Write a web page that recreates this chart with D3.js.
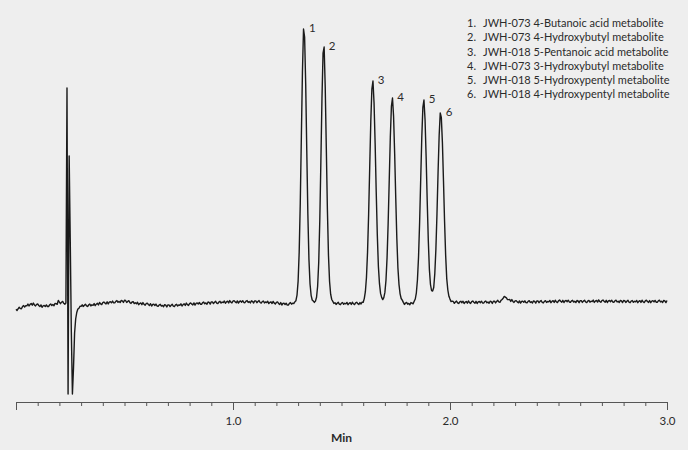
<!DOCTYPE html>
<html>
<head>
<meta charset="utf-8">
<script src="https://cdn.jsdelivr.net/npm/d3@7"></script>
<style>
  body { margin: 0; background: #eeeeee; }
  svg { display: block; }
  text { font-family: Lato, "Open Sans", sans-serif; }
</style>
</head>
<body>
<svg width="688" height="450"></svg>
<script>
// detector signal, one reading every 0.005 min, split by region of the run
const sampleStep = 0.005;
const segmentStarts = [0, 0.230, 0.305, 1.280, 2.015];

const preSolvent = [-6.2, -7.5, -5.7, -4.3, -5.6, -5.7, -3.6, -2.6, -4.0, -2.6,
  -2.8, -1.0, -3.0, -1.4, -0.5, -2.2, -0.1, -1.9, -2.9, -1.4,
  -1.0, -2.5, -3.6, -1.9, -4.3, -2.8, -2.4, -3.5, -1.9, -3.5,
  -3.5, -1.8, -1.0, -2.6, -1.6, -2.7, -0.4, -0.6, -1.3, 2.6,
  0.8, -0.7, 0.8, 1.6, -0.3, -1.2];

const solventFront = [0, 215, -91, 147, 63, -29, -91, -65, -30, -16, -9.5, -6, -5.3, -3.2, -3.4];

const earlyBaseline = [-1.8, -3.5, -2.2, -1.2, -2.9, -3.5, -1.8, -1.1, -2.9, -1.8,
  -2.3, -0.6, -2.7, -1.2, -0.3, -1.9, 0.5, -0.9, -1.6, 0.3,
  1.0, -0.1, -0.9, 1.2, -0.9, 0.8, 1.3, 0.2, 1.9, 0.2,
  0.1, 1.7, 2.4, 0.7, 1.6, 0.4, 2.6, 2.2, 0.6, 2.8,
  2.5, 0.5, 1.6, 2.3, 0.3, -0.4, 1.0, 1.4, -0.6, 0.2,
  -0.7, 0.7, -1.7, -0.5, 0.1, -1.7, 0.4, -1.3, -2.2, -0.7,
  -0.1, -1.5, -2.5, -0.7, -3.0, -1.5, -1.2, -2.5, -1.1, -3.0,
  -3.3, -1.8, -1.3, -3.1, -2.4, -3.7, -1.7, -2.2, -4.0, -1.9,
  -1.9, -3.6, -2.3, -1.3, -3.1, -3.6, -1.9, -1.3, -3.0, -1.9,
  -2.4, -0.8, -3.0, -1.6, -0.8, -2.4, -0.1, -1.6, -2.4, -0.6,
  0.1, -1.1, -1.9, 0.1, -2.1, -0.4, 0.1, -1.0, 0.5, -1.2,
  -1.3, 0.3, 0.9, -0.8, 0.1, -1.2, 1.0, 0.6, -1.1, 1.1,
  1.1, -0.6, 0.7, 1.7, -0.1, -0.6, 1.0, 1.7, -0.1, 1.0,
  0.4, 2.0, -0.3, 1.1, 1.8, 0.1, 2.4, 0.8, 0.1, 1.8,
  2.4, 1.1, 0.2, 2.1, -0.1, 1.5, 2.0, 0.8, 2.3, 0.5,
  0.3, 1.8, 2.4, 0.6, 1.4, 0.1, 2.2, 1.7, 0.0, 2.1,
  2.1, 0.3, 1.5, 2.4, 0.5, -0.1, 1.4, 2.0, 0.1, 1.1,
  0.4, 1.8, -0.6, 0.6, 1.2, -0.5, 1.6, -0.1, -1.0, 0.6,
  1.1, -0.4, -1.4, 0.4, -2.0, -0.5, -0.2, -1.5, -0.2, -2.1,
  -2.1, -0.4, 0.4, -1.2, -0.2];

const peakWindow = [-0.6, 1.1, 2.3, 7.8, 21.6, 50.9, 100, 166, 231, 274,
  266, 219, 152, 88.4, 43.4, 19, 7.7, 3.0, 2.0, 0.6,
  1.9, 5.8, 16.7, 40.5, 82.7, 142, 204.5, 250, 256, 216,
  155, 93.4, 47.6, 21.5, 8.8, 3.5, 1.6, -0.5,
  0.3, -1.5, -0.2, 0.7, -1.1, -1.7, -0.1, 0.5, -1.3, -0.3,
  -0.9, 0.6, -1.7, -0.4, 0.3, -1.4, 0.8, -0.8, -1.6, 0.1,
  0.7, -0.6, -1.5, 0.4,
  -1.0, 0.9, 0.8, 4.4, 11.3, 25.5, 50.8, 88.4, 135.5, 181.8,
  214, 222, 200, 159.5, 111, 68.2, 36.5, 19.3, 9.6,
  5.6, 3.4, 5.4, 10.6, 22.7, 45.4, 79.8, 122.7, 166, 196.6,
  205, 186.6, 149.3, 105, 64.6, 35, 18.4, 9.2, 4.5, 2.9, 0.6,
  -1.5, 0.0, 0.6, -1.2, -0.4, -1.7, 0.4, -0.1,
  -0.8, 1.8, 4.0, 10.2, 23.2, 46, 80.5, 123.5, 165.7, 195.6,
  203, 183.5, 146.3, 102, 62.6, 33.6, 18.5, 12.5, 12.0, 15.5,
  29.5, 54, 89.2, 130.5, 167.2, 190, 185.6, 160.6, 122, 81.3,
  47.6, 24.4, 13, 6.7, 3.9, 1.4, 1.8];

const lateBaseline = [1.5, -0.3, 1.0, 1.9, 0.1, -0.5, 1.1, 1.7,
  0.3, 1.8, -0.5, 0.8, 1.5, -0.2, 2.0, 0.4, -0.4, 1.3,
  2.0, 0.7, -0.2, 1.7, -0.5, 1.1, 1.5, 0.3, 1.8, 0.0,
  -0.1, 1.4, 2.0, 0.2, 1.0, -0.3, 1.8, 1.3, -0.4, 1.7,
  1.8, 0.1, 1.6, 2.7, 1.1, 0.7, 2.6, 3.5, 4.8, 6.6,
  5.9, 5.2, 3.4, 3.4, 3.6, 1.5, 3.4, 1.6, 0.6, 2.1,
  2.4, 1.1, 0.2, 2.1, -0.1, 1.5, 1.9, 0.7, 2.2, 0.4,
  0.2, 1.7, 2.3, 0.5, 1.3, 0.0, 2.1, 1.6, -0.1, 2.0,
  2.1, 0.3, 1.6, 2.5, 0.7, 0.1, 1.7, 2.3, 0.5, 1.5,
  1.1, 2.6, 0.3, 1.6, 2.3, 0.6, 2.8, 1.2, 0.4, 2.1,
  3.0, 1.7, 0.8, 2.7, 0.5, 2.1, 2.5, 1.3, 2.8, 1.0,
  0.6, 2.1, 2.7, 0.9, 1.7, 0.4, 2.5, 2.0, 0.3, 2.4,
  2.4, 0.6, 1.9, 2.8, 1.0, 0.4, 2.0, 2.6, 0.8, 1.8,
  1.4, 2.9, 0.6, 1.9, 2.6, 0.9, 3.1, 1.5, 0.7, 2.4,
  3.0, 1.7, 0.8, 2.7, 0.5, 2.1, 2.5, 1.3, 2.8, 1.0,
  0.7, 2.2, 2.8, 1.0, 1.8, 0.5, 2.6, 2.1, 0.4, 2.5,
  2.3, 0.5, 1.8, 2.7, 0.9, 0.3, 1.9, 2.5, 0.7, 1.7,
  1.1, 2.6, 0.3, 1.6, 2.3, 0.6, 2.8, 1.2, 0.4, 2.1,
  2.8, 1.5, 0.6, 2.5, 0.3, 1.9, 2.3, 1.1, 2.6, 0.8,
  0.7, 2.2, 2.8, 1.0, 1.8, 0.5, 2.6, 2.1, 0.4, 2.5];

const segments = [preSolvent, solventFront, earlyBaseline, peakWindow, lateBaseline];

// labelled peaks
const peakNumbers = [1, 2, 3, 4, 5, 6];
const peakTimes = [1.327, 1.418, 1.644, 1.734, 1.879, 1.957];
const peakHeights = [274, 256, 222, 205, 203, 190];
const compounds = [
  "JWH-073 4-Butanoic acid metabolite",
  "JWH-073 4-Hydroxybutyl metabolite",
  "JWH-018 5-Pentanoic acid metabolite",
  "JWH-073 3-Hydroxybutyl metabolite",
  "JWH-018 5-Hydroxypentyl metabolite",
  "JWH-018 4-Hydroxypentyl metabolite"
];

const majorTicks = [0, 1.0, 2.0, 3.0];
const minorTicks = d3.range(0, 31).map(i => i / 10);

const ink = "#2b2b2b";
const svg = d3.select("svg");
svg.append("rect").attr("width", 688).attr("height", 450).attr("fill", "#eeeeee");

const x = d3.scaleLinear().domain([0, 3]).range([16, 667]);
const y = d3.scaleLinear().domain([-91, 274]).range([394, 29]);

const trace = segments.flatMap((seg, s) =>
  seg.map((v, i) => [segmentStarts[s] + i * sampleStep, v]));

// axis: minor ticks + major ticks with labels
const axisY = 402;
const minorAxis = d3.axisBottom(x).tickValues(minorTicks).tickSize(4)
  .tickSizeOuter(0).tickFormat("");
const majorAxis = d3.axisBottom(x).tickValues(majorTicks).tickSize(8)
  .tickPadding(7).tickFormat(d => d === 0 ? "" : d.toFixed(1));

svg.append("g").attr("transform", `translate(0,${axisY})`).call(minorAxis);
const gMajor = svg.append("g").attr("transform", `translate(0,${axisY})`).call(majorAxis);
gMajor.select(".domain").remove();
svg.selectAll(".tick line, .domain").attr("stroke", "#555").attr("stroke-width", 1);
gMajor.selectAll(".tick text").attr("font-size", 11.5).attr("fill", ink)
  .style("font-family", "Lato, sans-serif");

svg.append("text")
  .attr("x", (x(0) + x(3)) / 2).attr("y", 438).attr("dy", "0.35em")
  .attr("text-anchor", "middle").attr("font-size", 12).attr("font-weight", "bold")
  .attr("fill", ink)
  .text("Min");

// chromatogram trace
svg.append("path")
  .datum(trace)
  .attr("fill", "none")
  .attr("stroke", "#1a1a1a")
  .attr("stroke-width", 1.4)
  .attr("stroke-linejoin", "round")
  .attr("d", d3.line().x(d => x(d[0])).y(d => y(d[1])));

// peak numbers
svg.selectAll(".peak-label")
  .data(peakNumbers)
  .enter().append("text")
  .attr("class", "peak-label")
  .attr("x", (d, i) => x(peakTimes[i]) + 5)
  .attr("y", (d, i) => y(peakHeights[i]) - 1.5)
  .attr("dy", "0.35em")
  .attr("font-size", 11.5)
  .attr("fill", ink)
  .text(d => d);

// legend
const legend = svg.append("g").attr("transform", "translate(467,23.3)");
const rows = legend.selectAll("g")
  .data(compounds)
  .enter().append("g")
  .attr("transform", (d, i) => `translate(0,${i * 14.2})`);
rows.append("text").attr("dy", "0.35em").attr("font-size", 11).attr("fill", ink)
  .text((d, i) => peakNumbers[i] + ".");
rows.append("text").attr("x", 16).attr("dy", "0.35em").attr("font-size", 11).attr("fill", ink)
  .text(d => d);
</script>
</body>
</html>
